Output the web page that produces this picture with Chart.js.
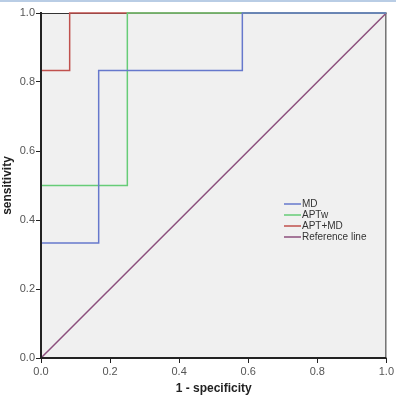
<!DOCTYPE html>
<html>
<head>
<meta charset="utf-8">
<script src="https://cdn.jsdelivr.net/npm/chart.js@4"></script>
<style>
  html, body { margin: 0; padding: 0; background: #fff; }
  #wrap { width: 396px; height: 400px; position: relative; }
</style>
</head>
<body>
<div id="wrap"><canvas id="roc"></canvas></div>
<script>
// ROC step curves (1 - specificity, sensitivity)
const mdX = [0, 0, 0.167, 0.167, 0.583, 0.583, 1];
const mdY = [0, 0.333, 0.333, 0.833, 0.833, 1, 1];
const aptwX = [0, 0, 0.25, 0.25, 1];
const aptwY = [0, 0.5, 0.5, 1, 1];
const aptMdX = [0, 0, 0.083, 0.083, 1];
const aptMdY = [0, 0.833, 0.833, 1, 1];
const refX = [0, 1];
const refY = [0, 1];
const tickValues = [0, 0.2, 0.4, 0.6, 0.8, 1.0];

const seriesNames = ["MD", "APTw", "APT+MD", "Reference line"];
const seriesColors = ["#6678cc", "#66cc77", "#c0504d", "#8c4f7d"];

const toPoints = (xs, ys) => xs.map((x, i) => ({ x: x, y: ys[i] }));

function lineSet(label, xs, ys, color) {
    return {
        label: label,
        data: toPoints(xs, ys),
        borderColor: color,
        backgroundColor: color,
        borderWidth: 1.5,
        showLine: true,
        pointRadius: 0,
        tension: 0,
        fill: false,
        clip: 2,
    };
}

// plot background + frame
const frame = {
    id: "frame",
    beforeDatasetsDraw(chart) {
        const { ctx, chartArea: a } = chart;
        ctx.save();
        ctx.fillStyle = "#f0f0f0";
        ctx.fillRect(a.left, a.top, a.right - a.left, a.bottom - a.top);
        ctx.strokeStyle = "#b9cde5";
        ctx.lineWidth = 2;
        ctx.beginPath();
        ctx.moveTo(0, 1);
        ctx.lineTo(chart.width, 1);
        ctx.stroke();
        ctx.strokeStyle = "#333";
        ctx.lineWidth = 1;
        ctx.strokeRect(a.left + 0.5, a.top + 0.5, a.right - a.left - 1, a.bottom - a.top - 1);
        ctx.restore();
    },
    afterDatasetsDraw(chart) {
        // left and bottom axis lines sit over the curves
        const { ctx, chartArea: a } = chart;
        ctx.save();
        ctx.strokeStyle = "#222";
        ctx.lineWidth = 2;
        ctx.beginPath();
        ctx.moveTo(a.left, a.top - 1);
        ctx.lineTo(a.left, a.bottom);
        ctx.lineTo(a.right, a.bottom);
        ctx.stroke();
        ctx.restore();
    },
};

// legend drawn inside the plot area
const innerLegend = {
    id: "innerLegend",
    afterDraw(chart) {
        const { ctx } = chart;
        const x0 = 284, y0 = 204, step = 11;
        ctx.save();
        ctx.font = "10px 'Liberation Sans', Arial, sans-serif";
        ctx.textBaseline = "middle";
        ctx.lineWidth = 1.5;
        seriesNames.forEach((name, i) => {
            const y = y0 + i * step;
            ctx.strokeStyle = seriesColors[i];
            ctx.beginPath();
            ctx.moveTo(x0, y);
            ctx.lineTo(x0 + 17, y);
            ctx.stroke();
            ctx.fillStyle = "#333";
            ctx.fillText(name, x0 + 18, y);
        });
        ctx.restore();
    },
};

const tickFont = { family: "'Liberation Sans', Arial, sans-serif", size: 11 };
const titleFont = { family: "'Liberation Sans', Arial, sans-serif", size: 12, weight: "bold" };

new Chart(document.getElementById("roc"), {
    type: "scatter",
    data: {
        datasets: [
            lineSet(seriesNames[0], mdX, mdY, seriesColors[0]),
            lineSet(seriesNames[1], aptwX, aptwY, seriesColors[1]),
            lineSet(seriesNames[2], aptMdX, aptMdY, seriesColors[2]),
            lineSet(seriesNames[3], refX, refY, seriesColors[3]),
        ],
    },
    options: {
        responsive: true,
        maintainAspectRatio: false,
        animation: false,
        layout: { padding: { top: 13, right: 9, left: 0, bottom: 0 } },
        scales: {
            x: {
                type: "linear",
                min: 0,
                max: 1,
                afterBuildTicks: (s) => { s.ticks = tickValues.map((v) => ({ value: v })); },
                afterFit: (s) => { s.height = 42; },
                ticks: {
                    font: tickFont,
                    color: "#555",
                    padding: 2,
                    maxRotation: 0,
                    callback: (v) => v.toFixed(1),
                },
                grid: { drawOnChartArea: false, tickLength: 5, color: "#222" },
                border: { color: "#222" },
                title: { display: true, text: "1 - specificity", font: titleFont, color: "#222", padding: { top: 8 } },
            },
            y: {
                type: "linear",
                min: 0,
                max: 1,
                afterBuildTicks: (s) => { s.ticks = tickValues.map((v) => ({ value: v })); },
                afterFit: (s) => { s.width = 41; },
                ticks: {
                    font: tickFont,
                    color: "#555",
                    padding: 1,
                    callback: (v) => v.toFixed(1),
                },
                grid: { drawOnChartArea: false, tickLength: 5, color: "#222" },
                border: { color: "#222" },
                title: { display: true, text: "sensitivity", font: titleFont, color: "#222", padding: 0 },
            },
        },
        plugins: {
            legend: { display: false },
            tooltip: { enabled: false },
        },
    },
    plugins: [frame, innerLegend],
});
</script>
</body>
</html>
